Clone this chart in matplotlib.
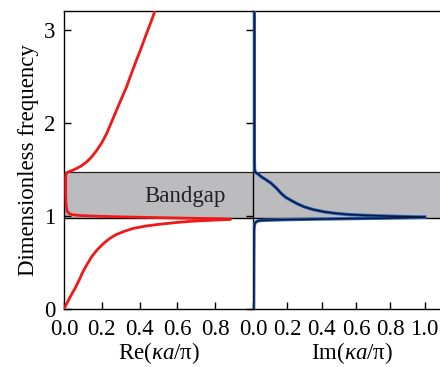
import numpy as np
import matplotlib
matplotlib.use("Agg")
from matplotlib import pyplot as plt

plt.rcParams['font.family'] = ['Liberation Serif', 'DejaVu Serif']
plt.rcParams['mathtext.fontset'] = 'custom'
plt.rcParams['mathtext.rm'] = 'Liberation Serif'
plt.rcParams['mathtext.it'] = 'Liberation Serif:italic'

# real part of the Bloch wavenumber, lower band (acoustic-like branch)
re_low_x = [0.0, 0.015, 0.03, 0.045, 0.058, 0.08, 0.10, 0.122, 0.146, 0.175, 0.207,
            0.24, 0.277, 0.32, 0.365, 0.43, 0.505, 0.59, 0.68, 0.78, 0.88]
re_low_y = [0.0, 0.06, 0.12, 0.175, 0.22, 0.31, 0.40, 0.48, 0.56, 0.635, 0.70,
            0.755, 0.80, 0.835, 0.865, 0.89, 0.91, 0.928, 0.943, 0.953, 0.962]

# real part, folding back through the gap and up into the upper band
re_up_x = [0.88, 0.78, 0.68, 0.58, 0.50, 0.40, 0.33, 0.25, 0.15, 0.10, 0.067, 0.045,
           0.03, 0.02, 0.015, 0.012, 0.010, 0.009, 0.009, 0.009, 0.011, 0.016, 0.023,
           0.035, 0.05, 0.067, 0.09, 0.12, 0.145, 0.172, 0.20, 0.225, 0.25, 0.277,
           0.30, 0.33, 0.355, 0.383, 0.41, 0.435, 0.46, 0.479]
re_up_y = [0.966, 0.970, 0.974, 0.978, 0.981, 0.985, 0.988, 0.992, 0.998, 1.002, 1.007,
           1.013, 1.022, 1.04, 1.065, 1.10, 1.16, 1.25, 1.35, 1.42, 1.45, 1.465, 1.472,
           1.482, 1.493, 1.51, 1.535, 1.58, 1.63, 1.70, 1.785, 1.88, 2.0, 2.13,
           2.24, 2.38, 2.52, 2.67, 2.81, 2.95, 3.08, 3.19]

# imaginary part, from below the gap
im_low_x = [0.004, 0.005, 0.006, 0.008, 0.012, 0.02, 0.029, 0.05, 0.087, 0.2,
            0.358, 0.55, 0.746, 0.87, 1.0]
im_low_y = [0.0, 0.5, 0.85, 0.90, 0.925, 0.938, 0.946, 0.951, 0.954, 0.96,
            0.965, 0.970, 0.975, 0.98, 0.985]

# imaginary part, from above the gap
im_up_x = [0.008, 0.008, 0.008, 0.009, 0.012, 0.02, 0.033, 0.048, 0.07, 0.09, 0.106,
           0.135, 0.165, 0.19, 0.223, 0.26, 0.30, 0.35, 0.416, 0.48, 0.552, 0.65,
           0.746, 0.87, 1.0]
im_up_y = [3.2, 2.0, 1.6, 1.50, 1.475, 1.46, 1.445, 1.42, 1.395, 1.37, 1.35,
           1.30, 1.24, 1.20, 1.165, 1.128, 1.096, 1.068, 1.043, 1.027, 1.015, 1.006,
           1.0, 0.993, 0.987]

gap_low = 0.975
gap_high = 1.475

re_ticks = [0.0, 0.2, 0.4, 0.6, 0.8]
im_ticks = [0.0, 0.2, 0.4, 0.6, 0.8, 1.0]
freq_ticks = [0, 1, 2, 3]

fs = 16.5
W, H = 440, 367

fig = plt.figure(figsize=(W / 100, H / 100), dpi=100)
bottom = (H - 309) / H
height = (309 - 11) / H
ax1 = fig.add_axes([64 / W, bottom, 189 / W, height])
ax2 = fig.add_axes([253 / W, bottom, 206 / W, height])

for ax in (ax1, ax2):
    ax.axhspan(gap_low, gap_high, color='#bcbcbe', zorder=0, lw=0)
    ax.axhline(gap_low, color='black', lw=1.0, zorder=1)
    ax.axhline(gap_high, color='#222222', lw=0.9, zorder=1)
    ax.set_ylim(0, 3.2)
    for s in ax.spines.values():
        s.set_linewidth(1.0)

ax1.plot(re_low_x, re_low_y, color='#f01818', lw=2.0, solid_capstyle='round', zorder=3)
ax1.plot(re_up_x, re_up_y, color='#f01818', lw=2.0, solid_capstyle='round', zorder=3)
ax1.set_xlim(0, 1.0)
ax1.set_xticks(re_ticks)
ax1.set_xticklabels([f"{t:.1f}" for t in re_ticks])
ax1.set_yticks(freq_ticks)
ax1.spines['right'].set_visible(False)
ax1.tick_params(axis='x', direction='in', length=5, width=1.0, labelsize=fs, pad=7)
ax1.tick_params(axis='y', direction='in', length=5, width=1.0, labelsize=fs, pad=6)
ax1.text(0.64, 1.21, "Bandgap", fontsize=fs, ha='center', va='center', color='#222222')
ax1.set_xlabel(r"Re($\kappa a$/π)", fontsize=fs)
ax1.xaxis.set_label_coords(0.5, -0.105)
ax1.set_ylabel("Dimensionless frequency", fontsize=fs, labelpad=4)

# blue underlay with a dark line on top
for xs, ys in ((im_low_x, im_low_y), (im_up_x, im_up_y)):
    ax2.plot(xs, ys, color='#2a64c0', lw=2.4, zorder=3)
    ax2.plot(xs, ys, color='#0c1838', lw=1.1, zorder=4)
ax2.set_xlim(0, 1.2)
ax2.set_xticks(im_ticks)
ax2.set_xticklabels([f"{t:.1f}" for t in im_ticks])
ax2.set_yticks(freq_ticks)
ax2.tick_params(axis='x', direction='in', length=5, width=1.0, labelsize=fs, pad=7)
ax2.tick_params(axis='y', direction='out', length=5, width=1.0, labelleft=False)
ax2.set_xlabel(r"Im($\kappa a$/π)", fontsize=fs)
ax2.xaxis.set_label_coords(99 / 206, -0.105)

fig.savefig("out.png", dpi=100)
